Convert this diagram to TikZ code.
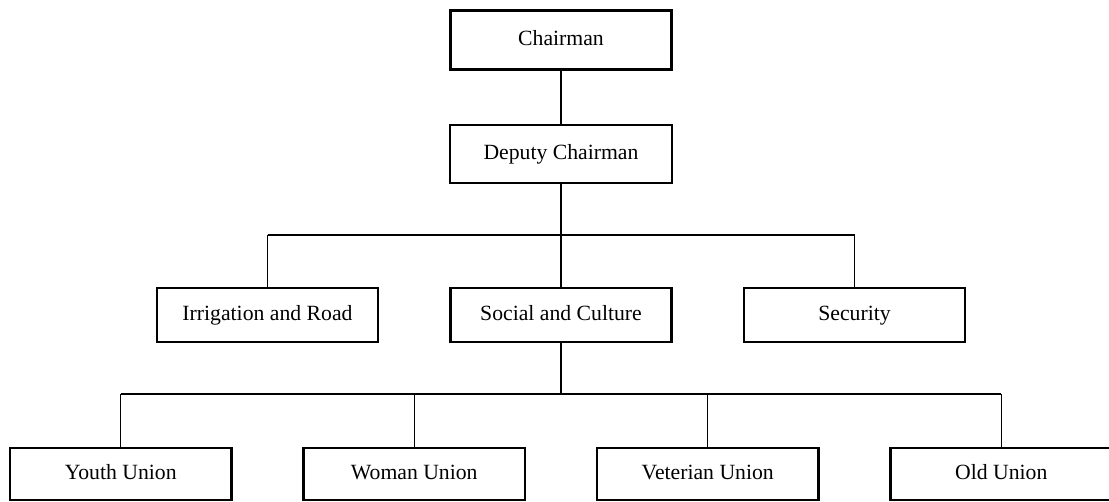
\documentclass[tikz,border=0pt]{standalone}
\usepackage{fontspec}
\setmainfont{Liberation Serif}

\begin{document}
\begin{tikzpicture}[x=0.017cm, y=-0.017cm, font=\fontsize{10.5}{12}\selectfont,
    unit/.style={draw, line width=1.2pt, inner sep=0pt, minimum width=3.76cm,
      text height=1.6ex, text depth=0.4ex},
    link/.style={line width=0.6pt}]

	\useasboundingbox (0,0) rectangle (1109,502);

	\def\cx{561};
	\def\gap{293.5};

	% top of the chart
	\node[unit, minimum height=1cm] (chair) at (\cx,40) {Chairman};
	\node[unit, minimum height=1cm, line width=0.9pt] (deputy) at (\cx,154) {Deputy Chairman};

	% sections
	\foreach \i/\txt/\name in {-1/Irrigation and Road/irr, 0/Social and Culture/soc, 1/Security/sec}{
		\node[unit, minimum height=0.92cm] (\name) at (\i*\gap + \cx, 315) {\txt};
	}

	% unions
	\foreach \i/\txt/\name in {-1.5/Youth Union/youth, -0.5/Woman Union/woman, 0.5/Veterian Union/vet, 1.5/Old Union/old}{
		\node[unit, minimum height=0.88cm] (\name) at (\i*\gap + \cx, 474) {\txt};
	}

	\coordinate (busA) at (\cx,235);
	\coordinate (busB) at (\cx,394);

	\draw[link] (chair) -- (deputy);
	\draw[link] (deputy) -- (busA);
	\draw[link] (irr |- busA) -- (sec |- busA);
	\foreach \name in {irr, soc, sec}
		\draw[link] (\name |- busA) -- (\name.north);

	\draw[link] (soc) -- (busB);
	\draw[link] (youth |- busB) -- (old |- busB);
	\foreach \name in {youth, woman, vet, old}
		\draw[link] (\name |- busB) -- (\name.north);

\end{tikzpicture}
\end{document}
